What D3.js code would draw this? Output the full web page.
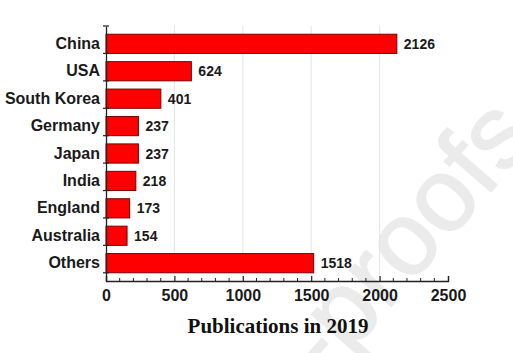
<!DOCTYPE html>
<html>
<head>
<meta charset="utf-8">
<script src="https://cdn.jsdelivr.net/npm/d3@7"></script>
<style>
  body { margin: 0; background: #fff; }
  svg { display: block; }
</style>
</head>
<body>
<script>
const width = 513;
const height = 353;

const countries = ["China", "USA", "South Korea", "Germany", "Japan", "India", "England", "Australia", "Others"];
const publications = [2126, 624, 401, 237, 237, 218, 173, 154, 1518];
const xTicks = [0, 500, 1000, 1500, 2000, 2500];
const gridTicks = [500, 1000, 1500, 2000];
const xTitle = "Publications in 2019";

const data = countries.map((c, i) => ({ country: c, value: publications[i] }));

const svg = d3
  .select("body")
  .append("svg")
  .attr("width", width)
  .attr("height", height);

// watermark (runs off the right edge, as in the source)
svg
  .append("text")
  .attr("transform", "translate(511, 114) rotate(-49)")
  .attr("text-anchor", "end")
  .attr("dominant-baseline", "central")
  .style("font-family", "Liberation Sans, Arial, sans-serif")
  .style("font-size", "104px")
  .attr("fill", "#ebebeb")
  .attr("stroke", "#ebebeb")
  .attr("stroke-width", 1.5)
  .text("-proofs");

const xScale = d3.scaleLinear().domain([0, 2500]).range([106, 448]);
const yScale = d3.scaleBand().domain(countries).range([26, 281]).padding(0.3);

// Grid
svg
  .append("g")
  .selectAll("line")
  .data(gridTicks)
  .enter()
  .append("line")
  .attr("x1", (d) => xScale(d))
  .attr("x2", (d) => xScale(d))
  .attr("y1", 26)
  .attr("y2", 281)
  .attr("stroke", "#e4e4e4")
  .attr("stroke-width", 1);

// Bars
svg
  .append("g")
  .selectAll("rect")
  .data(data)
  .enter()
  .append("rect")
  .attr("x", xScale(0))
  .attr("y", (d) => yScale(d.country))
  .attr("width", (d) => xScale(d.value) - xScale(0))
  .attr("height", yScale.bandwidth())
  .attr("fill", "#ff0000")
  .attr("stroke", "#7a0000")
  .attr("stroke-width", 1);

// Value labels
svg
  .append("g")
  .selectAll("text")
  .data(data)
  .enter()
  .append("text")
  .attr("x", (d) => xScale(d.value) + 7)
  .attr("y", (d) => yScale(d.country) + yScale.bandwidth() / 2 + 5)
  .style("font-family", "Liberation Sans, Arial, sans-serif")
  .style("font-weight", "bold")
  .style("font-size", "14px")
  .attr("fill", "#1a1a1a")
  .text((d) => d.value);

// X-Axis
const xAxis = d3
  .axisBottom(xScale)
  .tickValues(xTicks)
  .tickFormat(d3.format("d"))
  .tickSize(-5)
  .tickPadding(9);
const xg = svg.append("g").attr("transform", "translate(0, 281)").call(xAxis);
xg.select(".domain").attr("stroke", "#222").attr("stroke-width", 1.3);
xg.selectAll(".tick line").attr("stroke", "#222").attr("stroke-width", 1.2);
xg.selectAll("text")
  .style("font-family", "Liberation Sans, Arial, sans-serif")
  .style("font-weight", "bold")
  .style("font-size", "16px")
  .attr("fill", "#1a1a1a");

// minor ticks
const minor = d3.range(0, 2501, 100).filter((d) => d % 500 !== 0);
xg.append("g")
  .selectAll("line")
  .data(minor)
  .enter()
  .append("line")
  .attr("x1", (d) => xScale(d))
  .attr("x2", (d) => xScale(d))
  .attr("y1", 0)
  .attr("y2", -3)
  .attr("stroke", "#222")
  .attr("stroke-width", 1);

// Y-Axis
const yAxis = d3.axisLeft(yScale).tickSize(0).tickPadding(6);
const yg = svg.append("g").attr("transform", "translate(106, 0)").call(yAxis);
yg.select(".domain").attr("stroke", "#222").attr("stroke-width", 1.3);
yg.selectAll("text")
  .style("font-family", "Liberation Sans, Arial, sans-serif")
  .style("font-weight", "bold")
  .style("font-size", "16px")
  .attr("fill", "#1a1a1a");

// band boundary ticks crossing the y axis
const step = yScale.step();
yg.append("g")
  .selectAll("line")
  .data(d3.range(countries.length + 1))
  .enter()
  .append("line")
  .attr("x1", -3)
  .attr("x2", 3)
  .attr("y1", (i) => 26 + i * step)
  .attr("y2", (i) => 26 + i * step)
  .attr("stroke", "#222")
  .attr("stroke-width", 1.2);

// Title
svg
  .append("text")
  .attr("x", 278)
  .attr("y", 333)
  .attr("text-anchor", "middle")
  .style("font-family", "Liberation Serif, Times New Roman, serif")
  .style("font-weight", "bold")
  .style("font-size", "21px")
  .attr("fill", "#111")
  .text(xTitle);
</script>
</body>
</html>
